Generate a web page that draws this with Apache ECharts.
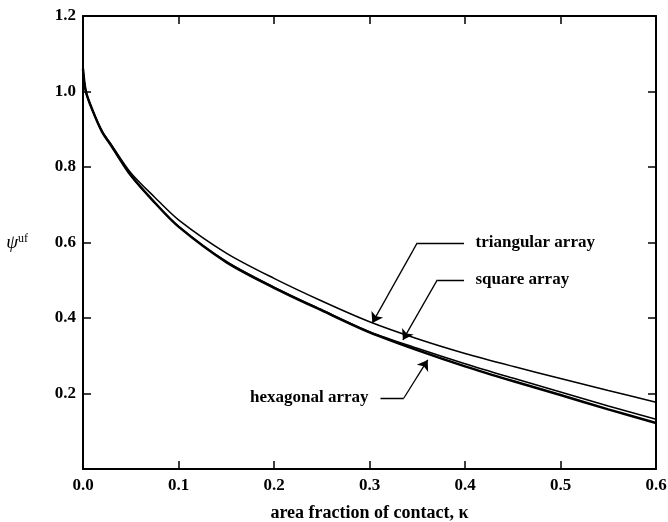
<!DOCTYPE html>
<html><head><meta charset="utf-8">
<script src="https://cdn.jsdelivr.net/npm/echarts@6/dist/echarts.min.js"></script>
<style>html,body{margin:0;padding:0;background:#fff}#c{width:668px;height:522px}</style>
</head><body><div id="c"></div>
<script>
const kappa = [0, 0.003, 0.01, 0.02, 0.03, 0.05, 0.075, 0.1, 0.15, 0.2, 0.25, 0.3, 0.35, 0.4, 0.45, 0.5, 0.55, 0.6];
const triangular = [1.06, 1.0, 0.95, 0.895, 0.858, 0.785, 0.72, 0.66, 0.572, 0.505, 0.445, 0.39, 0.345, 0.306, 0.272, 0.24, 0.208, 0.177];
const square = [1.06, 1.0, 0.95, 0.893, 0.855, 0.778, 0.706, 0.643, 0.55, 0.482, 0.422, 0.364, 0.32, 0.279, 0.241, 0.204, 0.167, 0.132];
const hexagonal = [1.06, 1.0, 0.95, 0.893, 0.855, 0.778, 0.706, 0.642, 0.548, 0.48, 0.42, 0.362, 0.315, 0.272, 0.233, 0.196, 0.158, 0.122];
const xTicks = [0, 0.1, 0.2, 0.3, 0.4, 0.5, 0.6];
const yTicks = [0, 0.2, 0.4, 0.6, 0.8, 1.0, 1.2];
// annotation labels and leader lines (data coordinates)
const labelNames = ['triangular array', 'square array', 'hexagonal array'];
const labelAnchors = [[0.411, 0.599], [0.411, 0.501], [0.299, 0.188]];
const labelSides = ['right', 'right', 'left'];
const leaders = [
  [[0.399, 0.599], [0.350, 0.599], [0.303, 0.387]],
  [[0.399, 0.501], [0.371, 0.501], [0.335, 0.342]],
  [[0.3115, 0.188], [0.336, 0.188], [0.361, 0.289]]
];

const FONT = '"Liberation Serif","DejaVu Serif",serif';
const pair = (xs, ys) => xs.map((x, i) => [x, ys[i]]);
const tickStyle = {show: true, inside: true, length: 8, lineStyle: {color: '#000', width: 1.5}};
const axLine = {show: true, onZero: false, lineStyle: {color: '#000', width: 2}};

// leader segments: plain ones, and the final arrowed ones
const plainSegs = [], arrowSegs = [];
leaders.forEach(c => {
  for (let i = 0; i < c.length - 1; i++) {
    (i === c.length - 2 ? arrowSegs : plainSegs).push({coords: [c[i], c[i + 1]]});
  }
});

const chart = echarts.init(document.getElementById('c'));
chart.setOption({
  animation: false,
  backgroundColor: '#fff',
  grid: {left: 83, right: 12, top: 16, bottom: 53, containLabel: false, outerBoundsMode: 'none'},
  xAxis: [{
    type: 'value', min: 0, max: 0.6, interval: 0.1, position: 'bottom',
    axisLine: axLine, axisTick: tickStyle, splitLine: {show: false},
    axisLabel: {color: '#000', fontFamily: FONT, fontSize: 17, fontWeight: 'bold', margin: 8,
      formatter: v => v.toFixed(1)},
    name: 'area fraction of contact, κ', nameLocation: 'middle', nameGap: 35,
    nameTextStyle: {color: '#000', fontFamily: FONT, fontSize: 18, fontWeight: 'bold'}
  }, {
    type: 'value', min: 0, max: 0.6, interval: 0.1, position: 'top',
    axisLine: axLine, axisTick: tickStyle, axisLabel: {show: false}, splitLine: {show: false}
  }],
  yAxis: [{
    type: 'value', min: 0, max: 1.2, interval: 0.2, position: 'left',
    axisLine: axLine, axisTick: tickStyle, splitLine: {show: false},
    axisLabel: {color: '#000', fontFamily: FONT, fontSize: 17, fontWeight: 'bold', margin: 7,
      formatter: v => v === 0 ? '' : v.toFixed(1)},
    name: '{a|ψ}{b|uf}', nameLocation: 'middle', nameGap: 55, nameRotate: 0,
    nameTextStyle: {rich: {
      a: {fontFamily: FONT, fontSize: 19, fontStyle: 'italic', color: '#000'},
      b: {fontFamily: FONT, fontSize: 12, color: '#000', verticalAlign: 'top', padding: [0, 0, 8, 0]}
    }}
  }, {
    type: 'value', min: 0, max: 1.2, interval: 0.2, position: 'right',
    axisLine: axLine, axisTick: tickStyle, axisLabel: {show: false}, splitLine: {show: false}
  }],
  series: [
    {type: 'line', name: 'triangular', data: pair(kappa, triangular), showSymbol: false, smooth: 0.3,
      lineStyle: {color: '#000', width: 1.5}},
    {type: 'line', name: 'square', data: pair(kappa, square), showSymbol: false, smooth: 0.3,
      lineStyle: {color: '#000', width: 1.5}},
    {type: 'line', name: 'hexagonal', data: pair(kappa, hexagonal), showSymbol: false, smooth: 0.3,
      lineStyle: {color: '#000', width: 2.5}},
    {type: 'lines', coordinateSystem: 'cartesian2d', symbol: 'none',
      lineStyle: {color: '#000', width: 1.3, opacity: 1}, data: plainSegs},
    {type: 'lines', coordinateSystem: 'cartesian2d', symbol: ['none', 'arrow'], symbolSize: [0, 10],
      lineStyle: {color: '#000', width: 1.3, opacity: 1}, data: arrowSegs},
    {type: 'scatter', symbolSize: 0, silent: true, itemStyle: {opacity: 1, color: '#000'},
      data: labelAnchors.map((p, i) => ({value: p, name: labelNames[i],
        label: {show: true, position: labelSides[i], distance: 0, formatter: '{b}',
          color: '#000', opacity: 1, fontFamily: FONT, fontSize: 17, fontWeight: 'bold'}}))}
  ]
});
</script></body></html>
